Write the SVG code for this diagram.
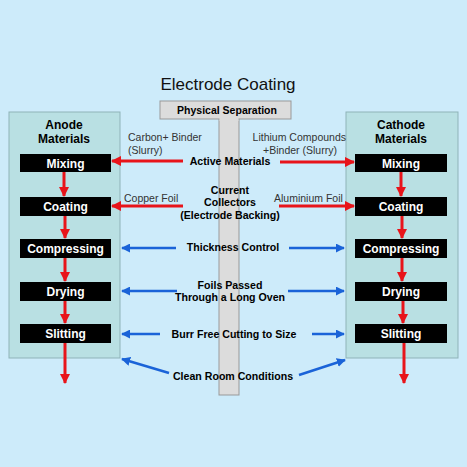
<svg xmlns="http://www.w3.org/2000/svg" width="467" height="467" viewBox="0 0 467 467">
<defs>
<style>
text{font-family:"Liberation Sans",Arial,sans-serif;}
.panel{fill:#b9e0e3;stroke:#8fb3b8;stroke-width:1;}
.box{fill:#000;}
.bl{fill:#fff;font-size:12px;font-weight:bold;text-anchor:middle;}
.hd{fill:#000;font-size:12px;font-weight:bold;text-anchor:middle;}
.ann{fill:#333;font-size:10.5px;}
.annb{fill:#000;font-size:10.6px;font-weight:bold;text-anchor:middle;}
.sep{fill:#dcdcdc;stroke:#999;stroke-width:1;}
.red{stroke:#e8141a;stroke-width:3;fill:none;marker-end:url(#ar);}
.blue{stroke:#1a63d8;stroke-width:2.5;fill:none;marker-end:url(#ab);}
</style>
<marker id="ar" viewBox="0 0 10 10" refX="9" refY="5" markerWidth="3.5" markerHeight="3.5" orient="auto"><path d="M0,0 L10,5 L0,10 z" fill="#e8141a"/></marker>
<marker id="ab" viewBox="0 0 10 10" refX="9" refY="5" markerWidth="3.6" markerHeight="3.6" orient="auto"><path d="M0,0 L10,5 L0,10 z" fill="#1a63d8"/></marker>
</defs>
<rect width="467" height="467" fill="#cdebfa"/>
<text x="228" y="90" font-size="17" text-anchor="middle" fill="#111">Electrode Coating</text>

<g id="separator">
<rect class="sep" x="219" y="112" width="20" height="283"/>
<rect class="sep" x="160" y="101" width="131" height="18"/>
<rect x="219.5" y="118" width="19" height="3" fill="#dcdcdc"/>
<text x="227" y="114" font-size="10.5" font-weight="bold" text-anchor="middle">Physical Separation</text>
</g>

<g id="anode">
<rect class="panel" x="9" y="112" width="111" height="246"/>
<text class="hd" x="64" y="129">Anode</text>
<text class="hd" x="64" y="143">Materials</text>
</g>
<g id="cathode">
<rect class="panel" x="346" y="112" width="112" height="246"/>
<text class="hd" x="401" y="129">Cathode</text>
<text class="hd" x="401" y="143">Materials</text>
</g>

<g id="connectors">
<line class="red" x1="64" y1="172" x2="64" y2="196"/>
<line class="red" x1="65" y1="216" x2="65" y2="238"/>
<line class="red" x1="65" y1="258" x2="65" y2="281"/>
<line class="red" x1="65" y1="301" x2="65" y2="323"/>
<line class="red" x1="65" y1="343" x2="65" y2="383"/>
<line class="red" x1="401" y1="172" x2="401" y2="196"/>
<line class="red" x1="402" y1="216" x2="402" y2="238"/>
<line class="red" x1="402" y1="258" x2="402" y2="281"/>
<line class="red" x1="403" y1="301" x2="403" y2="323"/>
<line class="red" x1="404" y1="343" x2="404" y2="383"/>
<line class="red" x1="183" y1="161" x2="112" y2="161"/>
<line class="red" x1="280" y1="162" x2="354" y2="162"/>
<line class="red" x1="183" y1="206" x2="112" y2="206"/>
<line class="red" x1="279" y1="206" x2="354" y2="206"/>
<line class="blue" x1="176" y1="248" x2="122" y2="248"/>
<line class="blue" x1="289" y1="248" x2="344" y2="248"/>
<line class="blue" x1="177" y1="291" x2="122" y2="291"/>
<line class="blue" x1="288" y1="291" x2="344" y2="291"/>
<line class="blue" x1="160" y1="334" x2="122" y2="334"/>
<line class="blue" x1="312" y1="334" x2="344" y2="334"/>
<line class="blue" x1="169" y1="373" x2="122" y2="359"/>
<line class="blue" x1="299" y1="375" x2="345" y2="360"/>
</g>

<g id="anode-mixing"><rect class="box" x="20" y="154" width="91" height="18"/><text class="bl" x="65.5" y="167.5">Mixing</text></g>
<g id="anode-coating"><rect class="box" x="20" y="197" width="91" height="19"/><text class="bl" x="65.5" y="211">Coating</text></g>
<g id="anode-compressing"><rect class="box" x="20" y="239" width="91" height="19"/><text class="bl" x="65.5" y="253">Compressing</text></g>
<g id="anode-drying"><rect class="box" x="20" y="282" width="91" height="19"/><text class="bl" x="65.5" y="296">Drying</text></g>
<g id="anode-slitting"><rect class="box" x="20" y="324" width="91" height="19"/><text class="bl" x="65.5" y="338">Slitting</text></g>

<g id="cathode-mixing"><rect class="box" x="355" y="154" width="92" height="18"/><text class="bl" x="401" y="167.5">Mixing</text></g>
<g id="cathode-coating"><rect class="box" x="355" y="197" width="92" height="19"/><text class="bl" x="401" y="211">Coating</text></g>
<g id="cathode-compressing"><rect class="box" x="355" y="239" width="92" height="19"/><text class="bl" x="401" y="253">Compressing</text></g>
<g id="cathode-drying"><rect class="box" x="355" y="282" width="92" height="19"/><text class="bl" x="401" y="296">Drying</text></g>
<g id="cathode-slitting"><rect class="box" x="355" y="324" width="92" height="19"/><text class="bl" x="401" y="338">Slitting</text></g>

<g id="labels">
<text class="ann" x="128" y="141">Carbon+ Binder</text>
<text class="ann" x="128" y="154">(Slurry)</text>
<text class="annb" x="230" y="165">Active Materials</text>
<text class="ann" x="124" y="202">Copper Foil</text>
<text class="annb" x="230" y="194">Current</text>
<text class="annb" x="230" y="206">Collectors</text>
<text class="annb" x="230" y="219">(Electrode Backing)</text>
<text class="ann" x="346" y="141" text-anchor="end">Lithium Compounds</text>
<text class="ann" x="300" y="154" text-anchor="middle">+Binder (Slurry)</text>
<text class="ann" x="274" y="202">Aluminium Foil</text>
<text class="annb" x="233" y="251">Thickness Control</text>
<text class="annb" x="230" y="289">Foils Passed</text>
<text class="annb" x="230" y="301">Through a Long Oven</text>
<text class="annb" x="234" y="338">Burr Free Cutting to Size</text>
<text class="annb" x="233" y="380">Clean Room Conditions</text>
</g>
</svg>
